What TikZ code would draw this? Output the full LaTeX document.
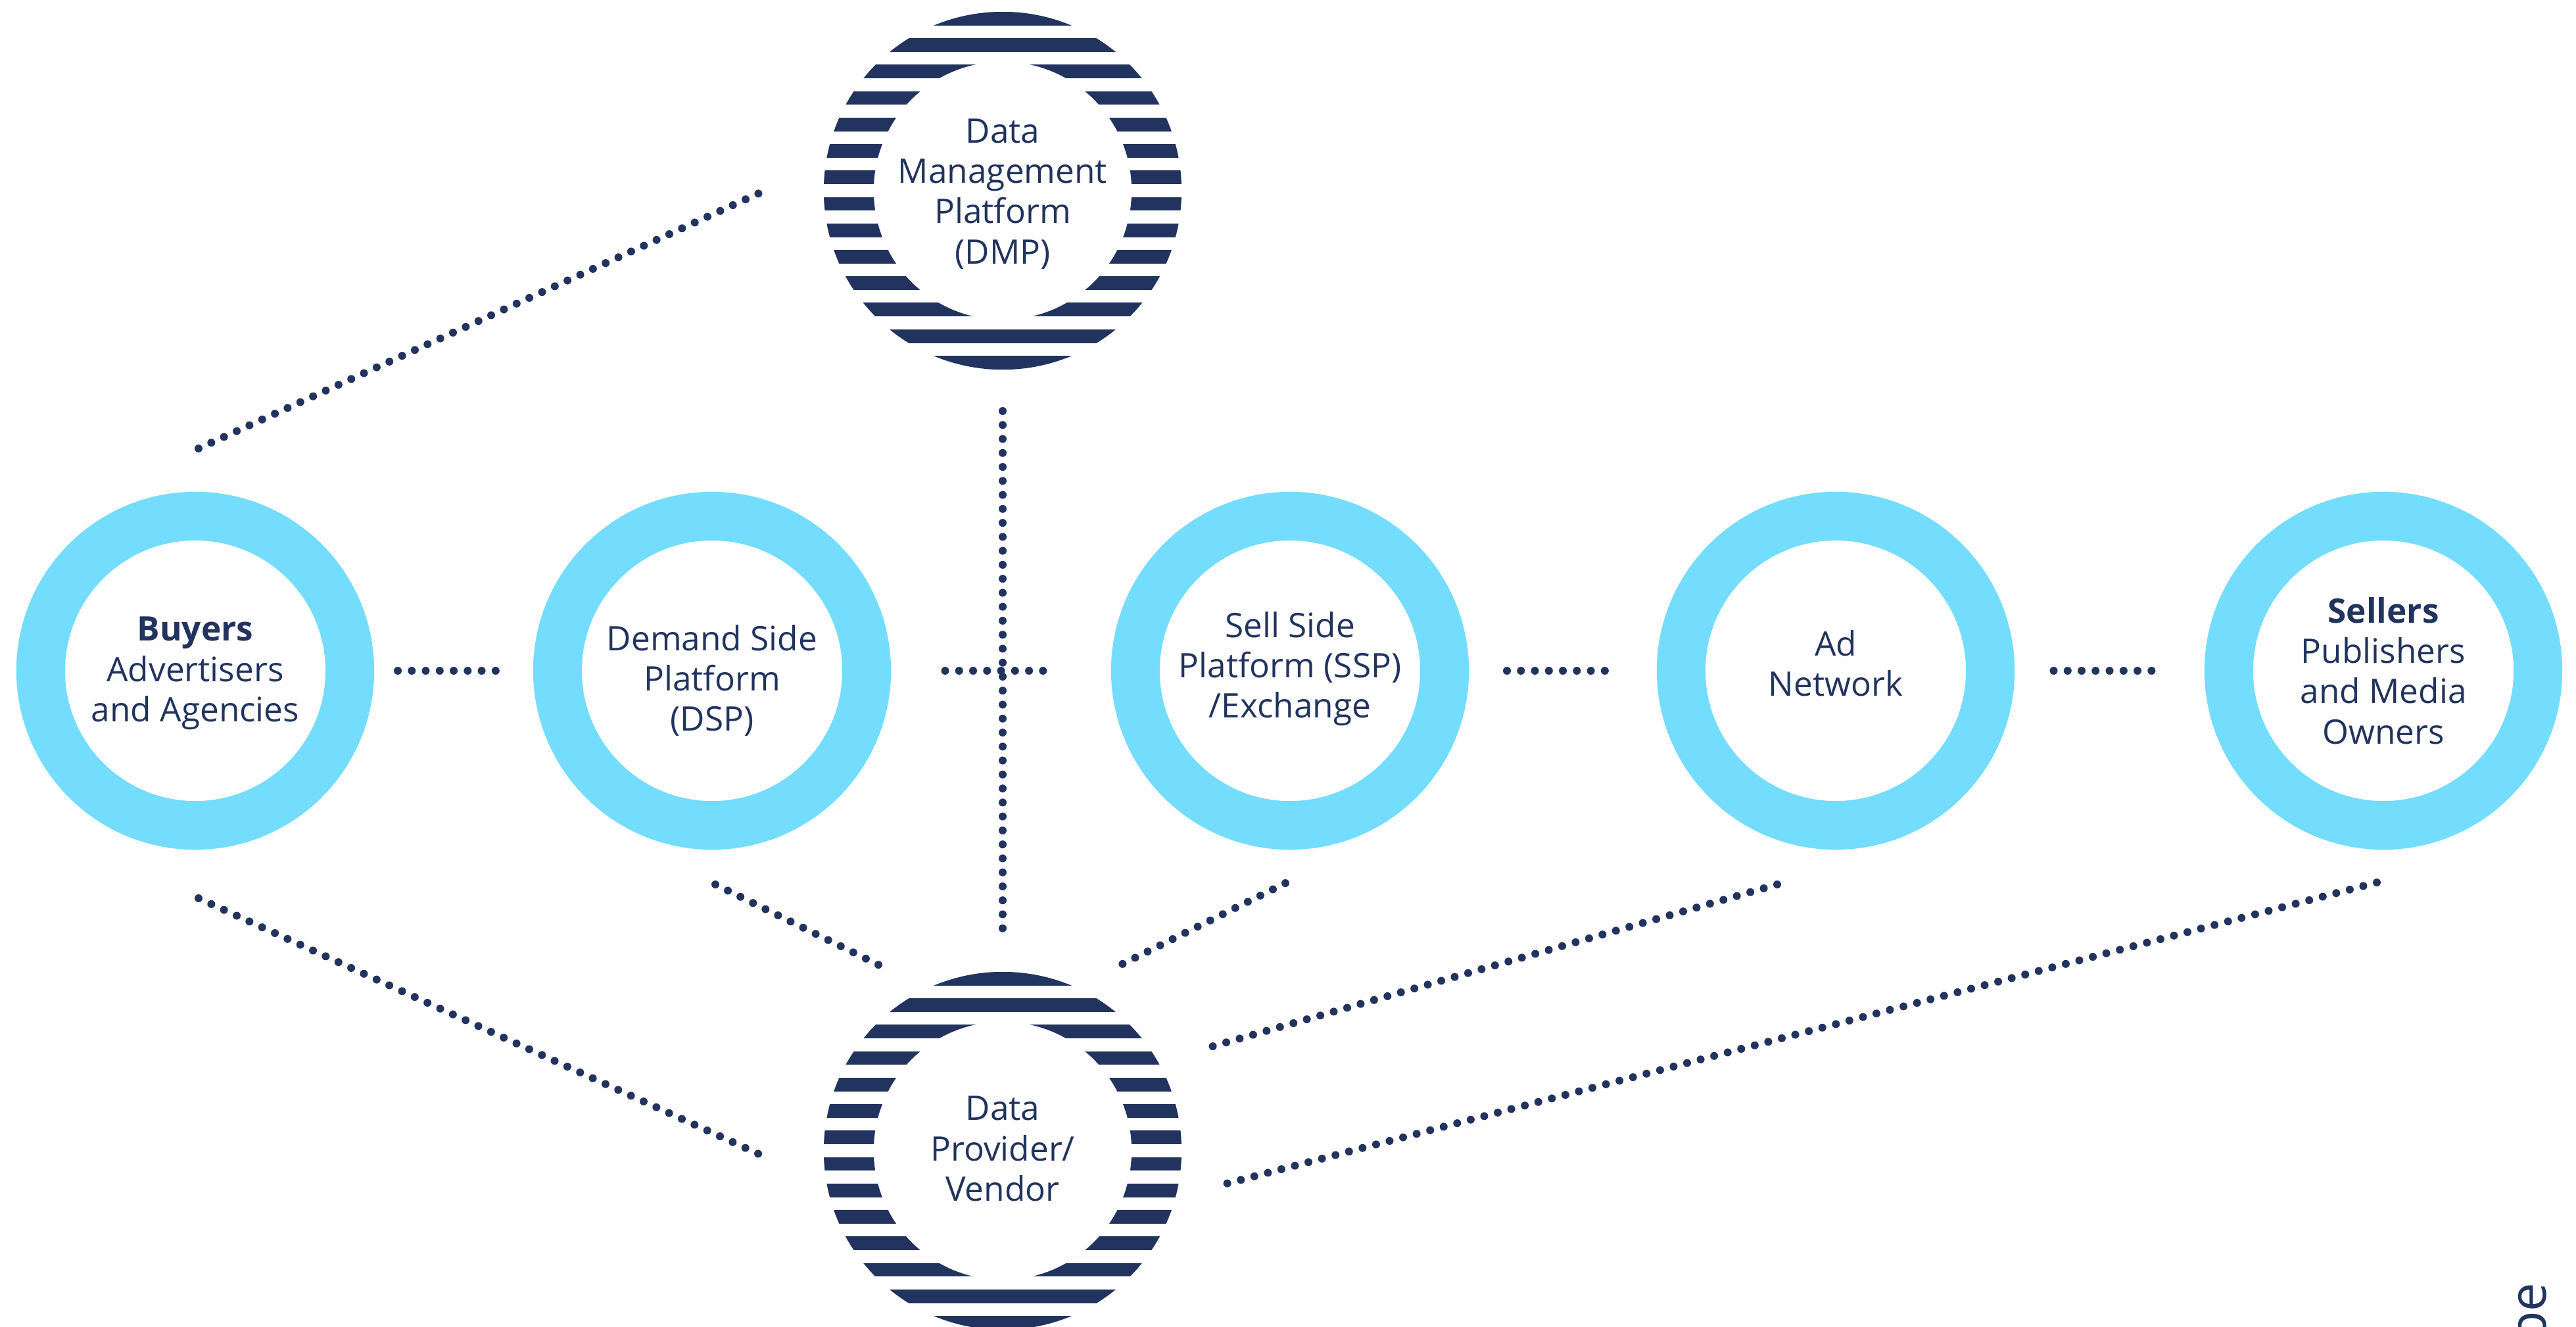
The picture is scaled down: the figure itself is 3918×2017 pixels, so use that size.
\documentclass[tikz,border=0pt]{standalone}
\usepackage{fontspec}
\setmainfont{Open Sans}
\usetikzlibrary{calc}
\definecolor{navy}{HTML}{21335E}
\definecolor{skyc}{HTML}{74DDFD}
\begin{document}
\begin{tikzpicture}[x=0.01cm,y=-0.01cm,
  lbl/.style={text=navy, align=center, font=\fontsize{14.6}{17.4}\selectfont, inner sep=0pt},
  ring/.style={circle, draw=skyc, fill=white, line width=0.74cm, minimum size=4.7cm, inner sep=0pt, outer sep=0.37cm},
  striped/.style={circle, minimum size=5.44cm, inner sep=0pt, outer sep=0pt,
    path picture={
      \foreach \i in {0,...,13}{
        \fill[navy] ($(path picture bounding box.north)+(-290,\i*40.24)$) rectangle ++(580,20.9);
      }
      \fill[white] (path picture bounding box.center) circle[radius=1.96cm];
    }},
  dotline/.style={navy, line width=0.12cm, line cap=round, dash pattern=on 0pt off 0.2125cm}]
\useasboundingbox (0,0) rectangle (3918,2017);
\fill[white] (0,0) rectangle (3918,2017);

% nodes
\node[ring, label={[lbl, yshift=-0.04cm]center:{\textbf{Buyers}\\Advertisers\\and Agencies}}] (buy) at (297,1020) {};
\node[ring, label={[lbl, yshift=-0.15cm]center:{Demand Side\\Platform\\(DSP)}}] (dsp) at (1083,1020) {};
\node[ring, label={[lbl, yshift=0.03cm]center:{Sell Side\\Platform (SSP)\\/Exchange}}] (ssp) at (1962,1020) {};
\node[ring, label={[lbl, yshift=0.11cm]center:{Ad\\Network}}] (adn) at (2792,1020) {};
\node[ring, label={[lbl, yshift=0cm]center:{\textbf{Sellers}\\Publishers\\and Media\\Owners}}] (sel) at (3625,1020) {};
\node[striped, label={[lbl, yshift=-0.05cm]center:{Data\\Management\\Platform\\(DMP)}}] (dmp) at (1525,290) {};
\node[striped, label={[lbl, yshift=0.03cm]center:{Data\\Provider/\\Vendor}}] (dpv) at (1525,1750) {};

% horizontal connectors
\draw[dotline] ($(buy)!0.5!(dsp)+(-85,0)$) -- ($(buy)!0.5!(dsp)+(85,0)$);
\draw[dotline] ($(dsp)!0.5!(ssp)+(-85,0)$) -- ($(dsp)!0.5!(ssp)+(85,0)$);
\draw[dotline] ($(ssp)!0.5!(adn)+(-85,0)$) -- ($(ssp)!0.5!(adn)+(85,0)$);
\draw[dotline] ($(adn)!0.5!(sel)+(-85,0)$) -- ($(adn)!0.5!(sel)+(85,0)$);

% vertical connector
\draw[dotline] ($(dmp)+(0,335)$) -- ($(dpv)+(0,-330)$);

% diagonal connectors
\draw[dotline] ($(buy)+(5,-338)$) -- ($(dmp)+(-362,0)$);
\draw[dotline] ($(buy)+(5,346)$) -- ($(dpv)+(-362,9)$);
\draw[dotline] ($(dsp)+(5,325)$) -- ($(dpv)+(-177,-277)$);
\draw[dotline] ($(ssp)+(-7,323)$) -- ($(dpv)+(170,-278)$);
\draw[dotline] ($(adn)+(-89,325)$) -- ($(dpv)+(306,-155)$);
\draw[dotline] ($(sel)+(-10,322)$) -- ($(dpv)+(340,50)$);

% cut-off rotated text
\node[rotate=90, anchor=base east, inner sep=0pt, text=navy, font=\fontsize{22}{26}\selectfont] (wm) at (3872,1950) {pe};
\end{tikzpicture}
\end{document}
